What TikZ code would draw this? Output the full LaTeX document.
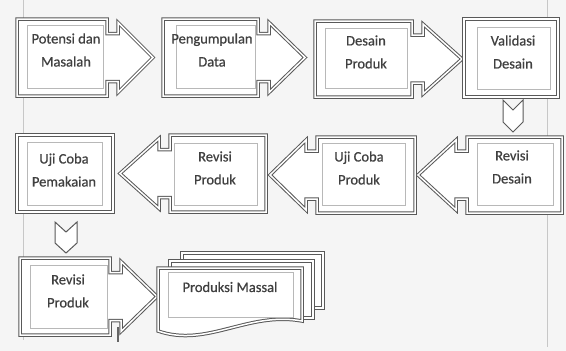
\documentclass[tikz,border=0pt]{standalone}
\usepackage{fontspec}
\setmainfont{Carlito}
\newfontfamily\boxfont{Carlito}[FakeBold=0.7]
\newcommand\RCallout[6]{% name,x1,y1,x2,y2,tip
  \path[shp] (#2,#3) -- (#4,#3) -- (#4,{(#3+#5)/2-24}) -- ({#4+11},{(#3+#5)/2-24}) -- ({#4+11},{(#3+#5)/2-35}) -- (#6,{(#3+#5)/2}) -- ({#4+11},{(#3+#5)/2+35}) -- ({#4+11},{(#3+#5)/2+24}) -- (#4,{(#3+#5)/2+24}) -- (#4,#5) -- (#2,#5) -- cycle;}
\newcommand\LCallout[6]{% name,x1,y1,x2,y2,tip
  \path[shp] (#4,#3) -- (#2,#3) -- (#2,{(#3+#5)/2-24}) -- ({#2-11},{(#3+#5)/2-24}) -- ({#2-11},{(#3+#5)/2-35}) -- (#6,{(#3+#5)/2}) -- ({#2-11},{(#3+#5)/2+35}) -- ({#2-11},{(#3+#5)/2+24}) -- (#2,{(#3+#5)/2+24}) -- (#2,#5) -- (#4,#5) -- cycle;}
\begin{document}
\begin{tikzpicture}[x=1pt,y=-1pt,
  shp/.style={draw=black!65, line width=1pt, double=white, double distance=1.5pt, fill=white, line join=miter},
  inbox/.style={draw=black!28, line width=0.7pt},
  chev/.style={draw=black!65, line width=1pt, fill=white, line join=miter},
  txt/.style={font=\boxfont\fontsize{14.5}{23}\selectfont, text=black!75, align=center, inner sep=0pt},
  pageline/.style={draw=black!22, line width=0.8pt}]
\useasboundingbox (0,0) rectangle (566,351);
\fill[white!96!black] (0,0) rectangle (566,351);
\draw[pageline] (23,0) -- (23,340);
\draw[pageline] (547,0) -- (547,347);
% row 1
\RCallout{b1}{17}{19}{107}{96}{153}
\draw[inbox] (27,25) rectangle (103,88);
\RCallout{b2}{163}{19}{258}{96}{305}
\draw[inbox] (176,25) rectangle (255,88);
\RCallout{b3}{315}{21}{412}{97}{462}
\draw[inbox] (325,28) rectangle (407,88);
\path[shp] (464,19) rectangle (558,97);
\draw[inbox] (477,27) rectangle (550,89);
% chevron 1
\path[chev] (503,100) -- (513,110) -- (523,100) -- (523,122) -- (513,132) -- (503,122) -- cycle;
% row 2
\LCallout{r1}{467}{137}{562}{213}{418}
\draw[inbox] (477,143) rectangle (553,205);
\LCallout{r2}{317}{137}{415}{213}{270}
\draw[inbox] (322,143) rectangle (405,205);
\LCallout{r3}{170}{135}{266}{212}{120}
\draw[inbox] (174,143) rectangle (257,205);
\path[shp] (17,135) rectangle (113,212);
\draw[inbox] (27,142) rectangle (102,205);
% chevron 2
\path[chev] (55,222) -- (66,232) -- (77,222) -- (77,243) -- (66,253) -- (55,243) -- cycle;
% row 3
\RCallout{c1}{20}{258}{110}{335}{157}
\draw[inbox] (30,265) rectangle (107,328);
\draw[black!60, line width=1.2pt] (118,327) -- (118,342);
% multi document
\path[shp] (182,253) rectangle (323,308);
\path[shp] (170,261) rectangle (313,318);
\path[shp] (158,268) -- (302,268) -- (302,321) .. controls (248,311) and (207,348) .. (158,331) -- cycle;
\draw[inbox] (168,272) rectangle (293,317);
% texts
\node[txt] (t1) at (66,50) {Potensi dan\\Masalah};
\node[txt] (t2) at (212,50) {Pengumpulan\\Data};
\node[txt] (t3) at (366,52) {Desain\\Produk};
\node[txt] (t4) at (513,52) {Validasi\\Desain};
\node[txt] (t5) at (512,167) {Revisi\\Desain};
\node[txt] (t6) at (359,168) {Uji Coba\\Produk};
\node[txt] (t7) at (215,168) {Revisi\\Produk};
\node[txt] (t8) at (64,170) {Uji Coba\\Pemakaian};
\node[txt] (t9) at (68,291) {Revisi\\Produk};
\node[txt] (t10) at (230,287) {Produksi Massal};
\end{tikzpicture}
\end{document}
